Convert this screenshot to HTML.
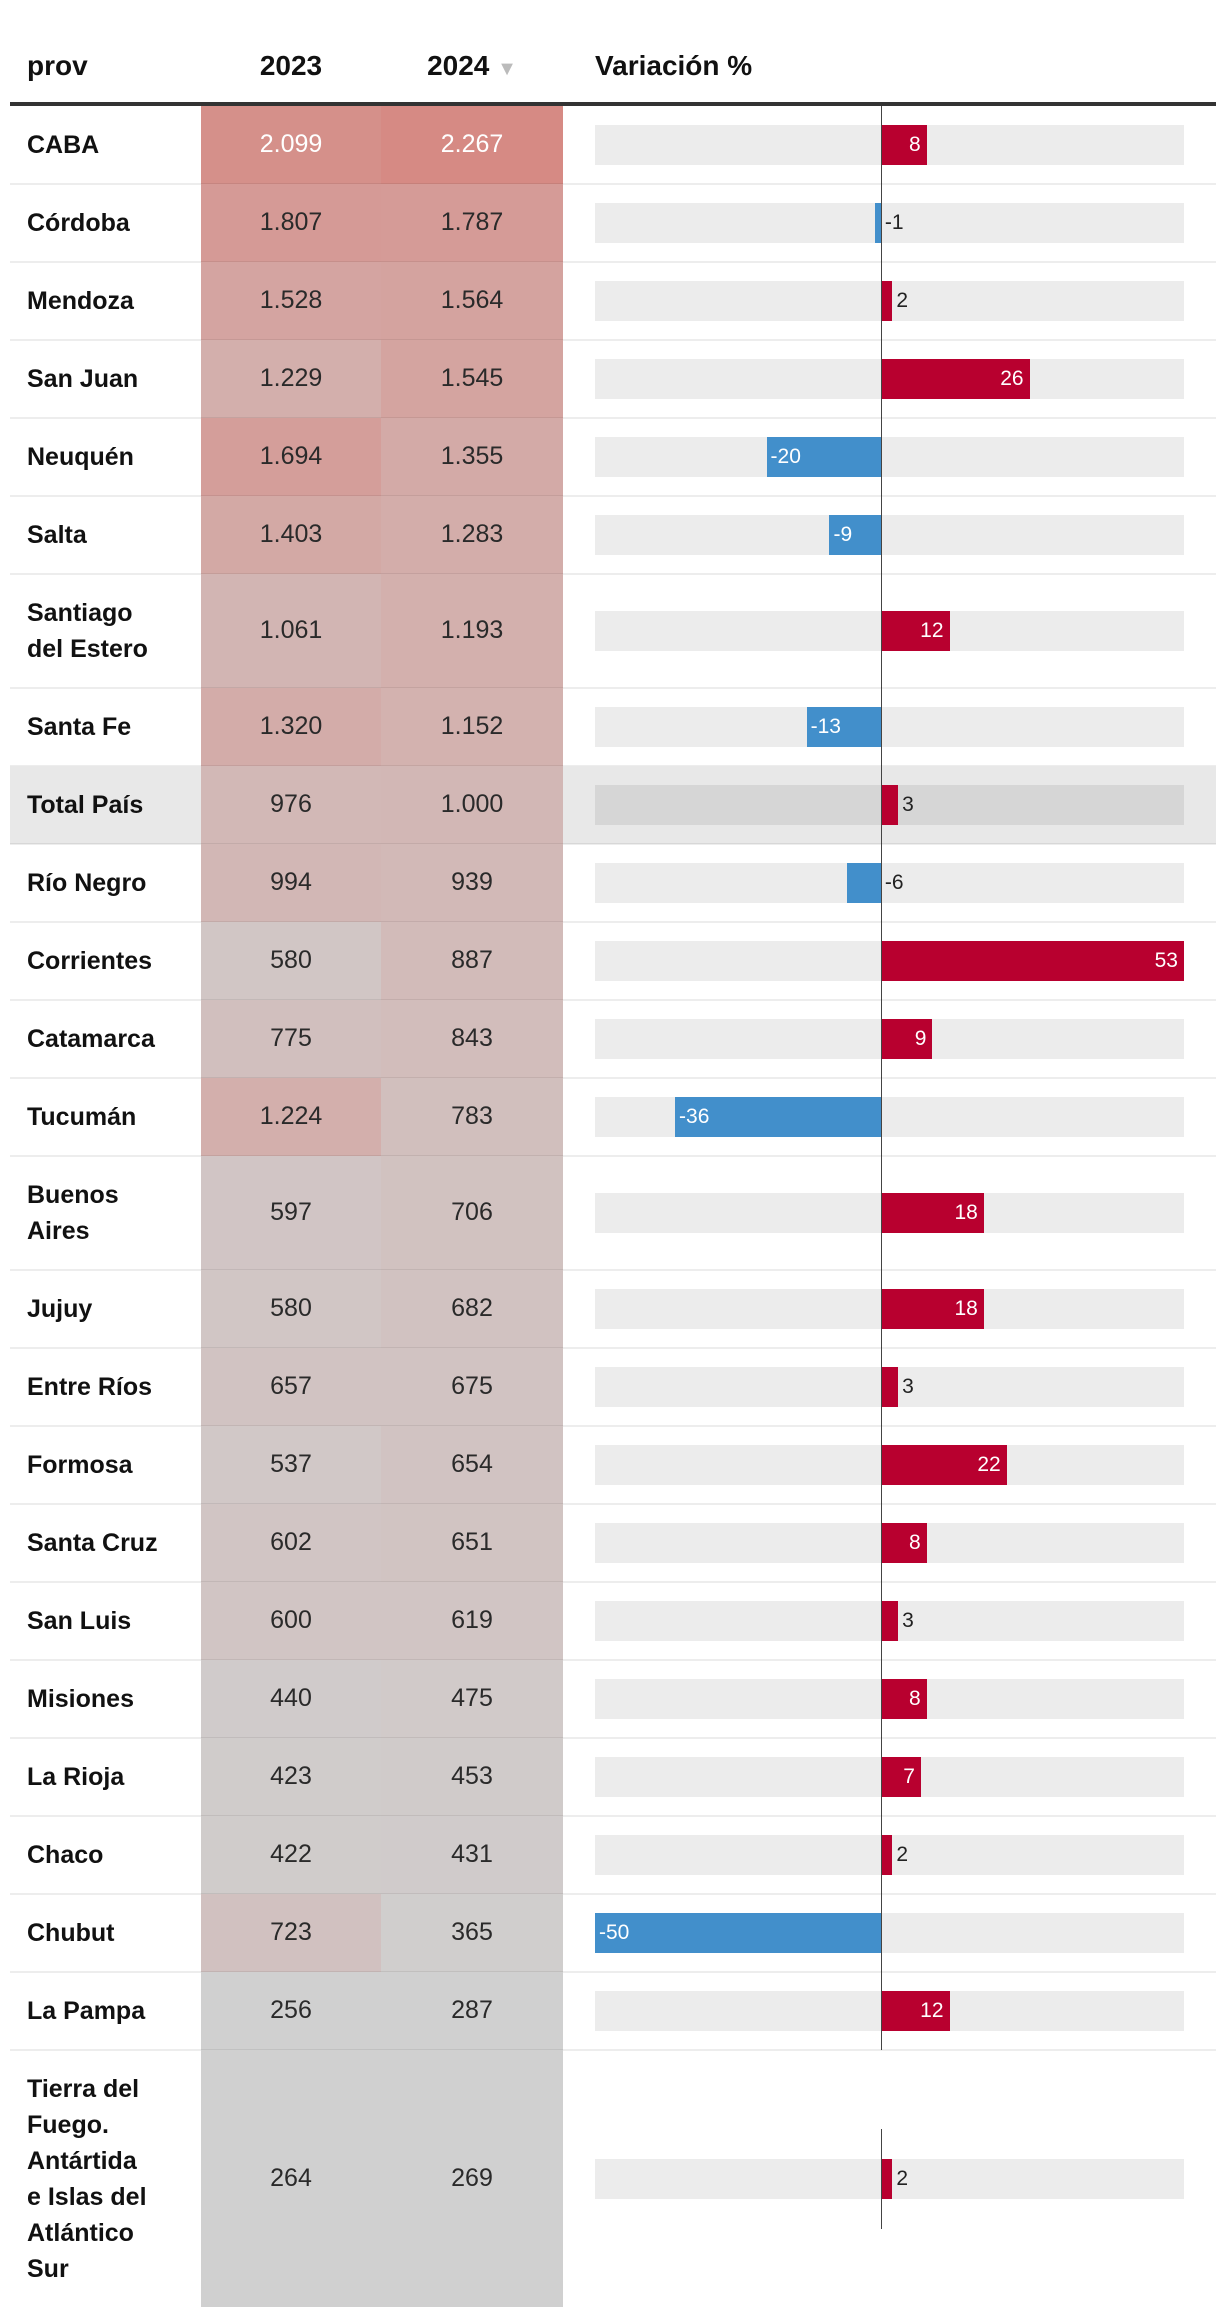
<!DOCTYPE html>
<html><head><meta charset="utf-8">
<style>
body{margin:0;background:#fff;font-family:"Liberation Sans",sans-serif;}
#wrap{position:relative;width:1220px;height:2316px;overflow:hidden;}
.abs{position:absolute;}
.hdr{position:absolute;top:50px;font-weight:bold;font-size:28px;color:#111;}
.name{position:absolute;left:27px;font-weight:bold;font-size:25px;color:#111;line-height:36px;}
.num{position:absolute;font-size:25px;color:#2a2a2a;text-align:center;width:180px;}
.lbl{position:absolute;font-size:21px;line-height:40px;}
</style></head><body>
<div id="wrap">
<div class="hdr" style="left:27px">prov</div>
<div class="hdr" style="left:201px;width:180px;text-align:center">2023</div>
<div class="hdr" style="left:381px;width:182px;text-align:center">2024 <span style="color:#bbb;font-size:20px">▼</span></div>
<div class="hdr" style="left:595px">Variación %</div>
<div class="abs" style="left:10px;top:102px;width:1206px;height:4px;background:#333"></div>
</div>
<script>
const provs=["CABA","Córdoba","Mendoza","San Juan","Neuquén","Salta","Santiago<br>del Estero","Santa Fe","Total País","Río Negro","Corrientes","Catamarca","Tucumán","Buenos<br>Aires","Jujuy","Entre Ríos","Formosa","Santa Cruz","San Luis","Misiones","La Rioja","Chaco","Chubut","La Pampa","Tierra del<br>Fuego.<br>Antártida<br>e Islas del<br>Atlántico<br>Sur"];
const v2023=[2099,1807,1528,1229,1694,1403,1061,1320,976,994,580,775,1224,597,580,657,537,602,600,440,423,422,723,256,264];
const v2024=[2267,1787,1564,1545,1355,1283,1193,1152,1000,939,887,843,783,706,682,675,654,651,619,475,453,431,365,287,269];
const variation=[8,-1,2,26,-20,-9,12,-13,3,-6,53,9,-36,18,18,3,22,8,3,8,7,2,-50,12,2];
const wrap=document.getElementById('wrap');
const xMin=-50,xMax=53,px0=595,px1=1184;
function xs(v){return px0+(v-xMin)/(xMax-xMin)*(px1-px0);}
function fmt(n){return n>=1000?Math.floor(n/1000)+'.'+String(n%1000).padStart(3,'0'):String(n);}
function col(v){let t=Math.max(0,Math.min(1,(v-300)/1967));
 return `rgb(${Math.round(208+t*6)},${Math.round(208-t*70)},${Math.round(208-t*76)})`;}
function mk(cls,style,html){const d=document.createElement('div');d.className=cls;d.style.cssText=style;if(html!==undefined)d.innerHTML=html;wrap.appendChild(d);return d;}
let y=106;
const x0=xs(0);
provs.forEach((p,i)=>{
  const lines=p.split('<br>').length;
  const h=lines===1?78:(lines===2?114:257);
  const cy=y+h/2;
  const isTotal=p==="Total País";
  if(isTotal){const bg=mk('abs',`left:10px;top:${y}px;width:1206px;height:${h}px;background:#e8e8e8`);
    
    }
  const c1=mk('abs',`left:201px;top:${y}px;width:180px;height:${h}px;background:${col(v2023[i])}`);
  
  
  const c2=mk('abs',`left:381px;top:${y}px;width:182px;height:${h}px;background:${col(v2024[i])}`);
  
  
  const nm=mk('name',`top:${cy-lines*18}px`,p);
  
  
  const white=i===0;
  const n1=mk('num',`left:201px;top:${cy-15}px;color:${white?'#fff':'#2a2a2a'}`,fmt(v2023[i]));
  
  
  const n2=mk('num',`left:382px;top:${cy-15}px;color:${white?'#fff':'#2a2a2a'}`,fmt(v2024[i]));
  
  
  const tr=mk('abs',`left:${px0}px;top:${cy-20}px;width:${px1-px0}px;height:40px;background:${isTotal?'#d6d6d6':'#ececec'}`);
  
  
  const v=variation[i];
  const bx=v>=0?x0:xs(v);
  const bw=Math.abs(xs(v)-x0);
  const bar=mk('abs',`left:${bx}px;top:${cy-20}px;width:${bw}px;height:40px;background:${v>=0?'#b8002f':'#428fcb'}`);
  
  
  let ls;
  if(bw>=36){
    ls=v>=0?`left:${x0}px;width:${bw-6}px;text-align:right;color:#fff`:`left:${bx+4}px;color:#fff`;
  }else{
    ls=v>=0?`left:${x0+bw+4}px;color:#222`:`left:${x0+4}px;color:#222`;
  }
  const lb=mk('lbl',`${ls};top:${cy-20}px`,String(v));
  
  
  const zl=lines>2?100:h;
  const z=mk('abs',`left:${x0}px;top:${cy-zl/2}px;width:1px;height:${zl}px;background:#444`);
  
  
  y+=h;
  if(i<provs.length-1){
    const b=mk('abs',`left:10px;top:${y-1}px;width:1206px;height:2px;background:rgba(0,0,0,0.07)`);
    
    
  }
});
</script>
</body></html>
